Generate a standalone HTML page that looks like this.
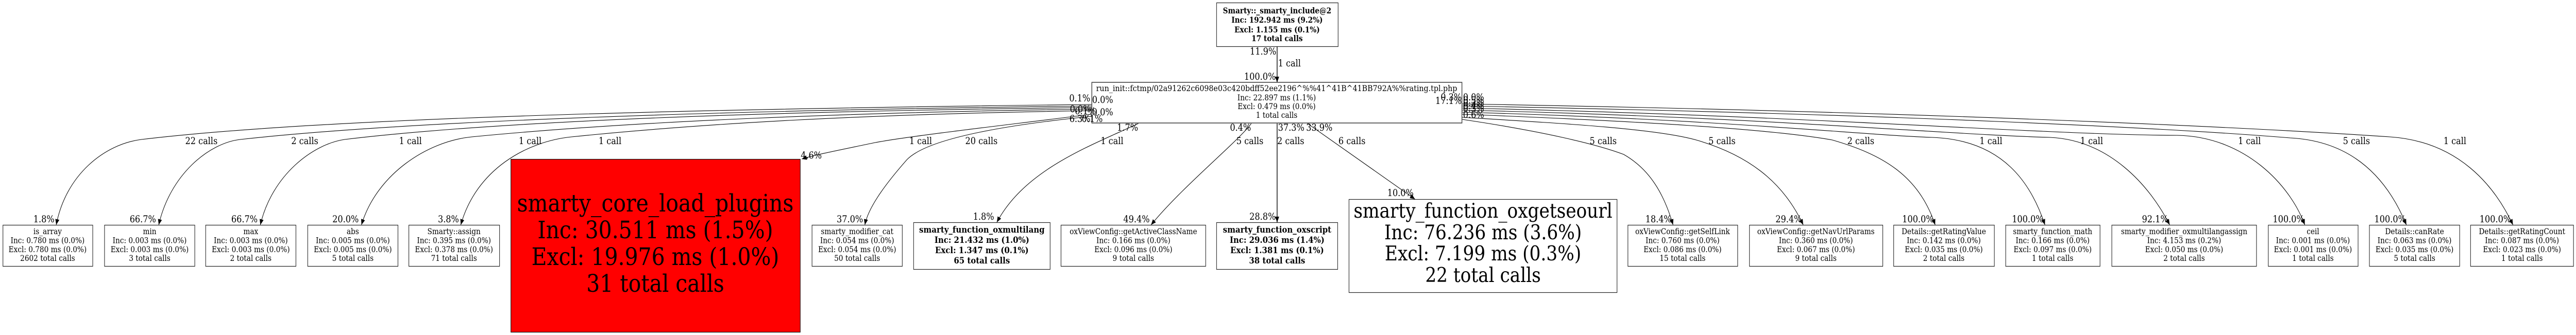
<!DOCTYPE html>
<html><head><meta charset="utf-8"><style>
html,body{margin:0;padding:0;background:#fff;width:100%;height:100%;overflow:hidden;}
svg{display:block;position:fixed;left:0;top:0;width:100vw;height:100vh;}
text{font-family:"DejaVu Serif","Liberation Serif",serif;fill:#000;}
.n{font-size:15.5px;text-anchor:middle;}
.b{font-size:17px;font-weight:bold;text-anchor:middle;}
.l{font-size:18.3px;}
.m{text-anchor:middle;}
.e{text-anchor:end;}
.box{fill:#fff;stroke:#222;stroke-width:1.2;}
.ed{fill:none;stroke:#000;stroke-width:1.1;marker-end:url(#ah);}
.eg{fill:none;stroke:#4a4a4a;stroke-width:2.2;marker-end:url(#ah);}
</style></head><body>
<svg viewBox="0 0 5680 651" preserveAspectRatio="none" xmlns="http://www.w3.org/2000/svg" overflow="hidden">
<defs>
<marker id="ah" markerUnits="userSpaceOnUse" markerWidth="11" markerHeight="9" refX="11" refY="4.5" orient="auto" viewBox="0 0 11 9">
<path d="M0,0 L11,4.5 L0,9 z" fill="#000"/>
</marker>
</defs>
<rect width="5680" height="651" fill="#fff"/>

<!-- top node -->
<rect class="box" x="2682.5" y="5.5" width="268" height="85"/>
<text class="b" style="font-size:15.5px" x="2816" y="26">Smarty::_smarty_include@2</text>
<text class="b" style="font-size:15.5px" x="2816" y="44">Inc: 192.942 ms (9.2%)</text>
<text class="b" style="font-size:15.5px" x="2816" y="63">Excl: 1.155 ms (0.1%)</text>
<text class="b" style="font-size:15.5px" x="2816" y="80">17 total calls</text>
<path class="eg" d="M2816,91 L2816,160"/>
<text class="l e" x="2814" y="106">11.9%</text>
<text class="l" x="2818" y="129">1 call</text>
<text class="l e" x="2813" y="155">100.0%</text>

<!-- edges left -->
<path class="ed" d="M2407,203 C1500,212 700,230 312,271 C230,280 145,340 124,437"/>
<path class="ed" d="M2407,206 C1600,214 900,235 530,271 C460,278 375,340 350,437"/>
<path class="ed" d="M2407,209 C1700,216 1100,235 760,271 C690,280 600,340 574,437"/>
<path class="ed" d="M2407,212 C1900,218 1400,235 1040,266 C940,275 830,340 797,437"/>
<path class="ed" d="M2407,215 C1900,222 1550,240 1260,266 C1160,275 1050,330 1016,437"/>
<path class="ed" d="M2407,222 C2200,245 2000,265 1930,277 C1860,290 1800,300 1768,309"/>
<path class="ed" d="M2407,226 C2250,240 2050,265 2000,310 C1960,350 1915,400 1907,437"/>
<path class="ed" d="M2510,240 C2400,285 2260,330 2198,432"/>
<path class="ed" d="M2759,240 C2730,275 2610,360 2538,437"/>
<path class="eg" d="M2816,240 L2816,432"/>
<path class="ed" d="M2883,240 L3120,387"/>
<!-- edges right -->
<path class="ed" d="M3224,232 C3400,255 3520,280 3580,300 C3640,330 3670,380 3689,437"/>
<path class="ed" d="M3224,228 C3450,240 3650,250 3740,272 C3850,300 3930,350 3976,437"/>
<path class="ed" d="M3224,222 C3600,235 3900,250 4040,272 C4150,300 4230,340 4267,437"/>
<path class="ed" d="M3224,218 C3800,232 4100,262 4260,267 C4420,272 4480,360 4509,437"/>
<path class="ed" d="M3224,214 C3900,228 4300,262 4520,267 C4650,272 4740,360 4784,437"/>
<path class="ed" d="M3224,210 C4000,225 4500,262 4800,263 C4950,265 5050,360 5082,437"/>
<path class="ed" d="M3224,206 C4200,222 4800,250 5050,268 C5200,275 5270,360 5306,437"/>
<path class="ed" d="M3224,202 C4300,218 5000,250 5270,266 C5420,275 5500,360 5541,437"/>

<!-- central node -->
<rect x="2407.5" y="160" width="816" height="79" fill="#fff" stroke="#444" stroke-width="1.6"/>
<text class="n" x="2815" y="177" textLength="796" lengthAdjust="spacingAndGlyphs">run_init::fctmp/02a91262c6098e03c420bdff52ee2196^%%41^41B^41BB792A%%rating.tpl.php</text>
<text class="n" x="2815" y="195">Inc: 22.897 ms (1.1%)</text>
<text class="n" x="2815" y="212">Excl: 0.479 ms (0.0%)</text>
<text class="n" x="2815" y="229">1 total calls</text>

<!-- tail labels left -->
<text class="l e" x="2404" y="197">0.1%</text>
<text class="l" x="2408" y="200">0.0%</text>
<text class="l" x="2359" y="218">0.0%</text>
<text class="l" x="2370" y="222">0.1%</text>
<text class="l" x="2408" y="224">0.0%</text>
<text class="l" x="2358" y="237">6.3%</text>
<text class="l" x="2385" y="237">0.1%</text>
<text class="l" x="2463" y="254">1.7%</text>
<text class="l" x="2712" y="254">0.4%</text>
<text class="l" x="2818" y="254">37.3%</text>
<text class="l" x="2880" y="254">33.9%</text>
<!-- tail labels right -->
<text class="l e" x="3223" y="195">0.3%</text>
<text class="l e" x="3223" y="202">17.1%</text>
<text class="l" x="3226" y="195">0.0%</text>
<text class="l" x="3226" y="201">0.5%</text>
<text class="l" x="3226" y="206">0.3%</text>
<text class="l" x="3226" y="212">0.4%</text>
<text class="l" x="3226" y="217">0.3%</text>
<text class="l" x="3226" y="229">0.6%</text>

<!-- call labels -->
<g class="l m">
<text x="444" y="280">22 calls</text>
<text x="672" y="280">2 calls</text>
<text x="905" y="280">1 call</text>
<text x="1169" y="280">1 call</text>
<text x="1345" y="280">1 call</text>
<text x="2030" y="280">1 call</text>
<text x="2164" y="280">20 calls</text>
<text x="2452" y="280">1 call</text>
<text x="2756" y="280">5 calls</text>
<text x="2846" y="280">2 calls</text>
<text x="2981" y="280">6 calls</text>
<text x="3535" y="280">5 calls</text>
<text x="3797" y="280">5 calls</text>
<text x="4103" y="280">2 calls</text>
<text x="4390" y="280">1 call</text>
<text x="4612" y="280">1 call</text>
<text x="4960" y="280">1 call</text>
<text x="5196" y="280">5 calls</text>
<text x="5413" y="280">1 call</text>
</g>

<!-- head labels -->
<g class="l e">
<text x="120" y="432">1.8%</text>
<text x="344" y="432">66.7%</text>
<text x="568" y="432">66.7%</text>
<text x="791" y="432">20.0%</text>
<text x="1012" y="432">3.8%</text>
<text x="1812" y="308">4.6%</text>
<text x="1903" y="432">37.0%</text>
<text x="2192" y="427">1.8%</text>
<text x="2535" y="432">49.4%</text>
<text x="2813" y="427">28.8%</text>
<text x="3117" y="381">10.0%</text>
<text x="3686" y="432">18.4%</text>
<text x="3973" y="432">29.4%</text>
<text x="4264" y="432">100.0%</text>
<text x="4506" y="432">100.0%</text>
<text x="4781" y="432">92.1%</text>
<text x="5081" y="432">100.0%</text>
<text x="5305" y="432">100.0%</text>
<text x="5537" y="432">100.0%</text>
</g>

<!-- small nodes -->
<rect class="box" x="6.5" y="437.5" width="198" height="80"/>
<text class="n" x="105" y="455">is_array</text><text class="n" x="105" y="472.5">Inc: 0.780 ms (0.0%)</text><text class="n" x="105" y="490">Excl: 0.780 ms (0.0%)</text><text class="n" x="105" y="507">2602 total calls</text>

<rect class="box" x="230.5" y="437.5" width="199" height="80"/>
<text class="n" x="330" y="455">min</text><text class="n" x="330" y="472.5">Inc: 0.003 ms (0.0%)</text><text class="n" x="330" y="490">Excl: 0.003 ms (0.0%)</text><text class="n" x="330" y="507">3 total calls</text>

<rect class="box" x="453.5" y="437.5" width="199" height="80"/>
<text class="n" x="553" y="455">max</text><text class="n" x="553" y="472.5">Inc: 0.003 ms (0.0%)</text><text class="n" x="553" y="490">Excl: 0.003 ms (0.0%)</text><text class="n" x="553" y="507">2 total calls</text>

<rect class="box" x="678.5" y="437.5" width="199" height="80"/>
<text class="n" x="778" y="455">abs</text><text class="n" x="778" y="472.5">Inc: 0.005 ms (0.0%)</text><text class="n" x="778" y="490">Excl: 0.005 ms (0.0%)</text><text class="n" x="778" y="507">5 total calls</text>

<rect class="box" x="901.5" y="437.5" width="200" height="80"/>
<text class="n" x="1001" y="455">Smarty::assign</text><text class="n" x="1001" y="472.5">Inc: 0.395 ms (0.0%)</text><text class="n" x="1001" y="490">Excl: 0.378 ms (0.0%)</text><text class="n" x="1001" y="507">71 total calls</text>

<rect x="1126.5" y="309.5" width="638" height="336" fill="#ff0000" stroke="#111" stroke-width="1.2"/>
<text class="m" style="font-size:46.5px" x="1445" y="411">smarty_core_load_plugins</text>
<text class="m" style="font-size:46.5px" x="1445" y="463">Inc: 30.511 ms (1.5%)</text>
<text class="m" style="font-size:46.5px" x="1445" y="515">Excl: 19.976 ms (1.0%)</text>
<text class="m" style="font-size:46.5px" x="1445" y="567">31 total calls</text>

<rect class="box" x="1790.5" y="437.5" width="199" height="80"/>
<text class="n" x="1890" y="455">smarty_modifier_cat</text><text class="n" x="1890" y="472.5">Inc: 0.054 ms (0.0%)</text><text class="n" x="1890" y="490">Excl: 0.054 ms (0.0%)</text><text class="n" x="1890" y="507">50 total calls</text>

<rect class="box" x="2014.5" y="432.5" width="301" height="91"/>
<text class="b" x="2165" y="452">smarty_function_oxmultilang</text><text class="b" x="2165" y="472">Inc: 21.432 ms (1.0%)</text><text class="b" x="2165" y="492">Excl: 1.347 ms (0.1%)</text><text class="b" x="2165" y="512">65 total calls</text>

<rect class="box" x="2339.5" y="437.5" width="319" height="80"/>
<text class="n" x="2499" y="455">oxViewConfig::getActiveClassName</text><text class="n" x="2499" y="472.5">Inc: 0.166 ms (0.0%)</text><text class="n" x="2499" y="490">Excl: 0.096 ms (0.0%)</text><text class="n" x="2499" y="507">9 total calls</text>

<rect class="box" x="2682.5" y="432.5" width="267" height="91"/>
<text class="b" x="2816" y="452">smarty_function_oxscript</text><text class="b" x="2816" y="472">Inc: 29.036 ms (1.4%)</text><text class="b" x="2816" y="492">Excl: 1.381 ms (0.1%)</text><text class="b" x="2816" y="512">38 total calls</text>

<rect class="box" x="2974.5" y="387.5" width="591" height="181"/>
<text class="m" style="font-size:39px" x="3270" y="423">smarty_function_oxgetseourl</text>
<text class="m" style="font-size:39px" x="3270" y="465">Inc: 76.236 ms (3.6%)</text>
<text class="m" style="font-size:39px" x="3270" y="506">Excl: 7.199 ms (0.3%)</text>
<text class="m" style="font-size:39px" x="3270" y="548">22 total calls</text>

<rect class="box" x="3589.5" y="437.5" width="242" height="80"/>
<text class="n" x="3710" y="455">oxViewConfig::getSelfLink</text><text class="n" x="3710" y="472.5">Inc: 0.760 ms (0.0%)</text><text class="n" x="3710" y="490">Excl: 0.086 ms (0.0%)</text><text class="n" x="3710" y="507">15 total calls</text>

<rect class="box" x="3857.5" y="437.5" width="294" height="80"/>
<text class="n" x="4004" y="455">oxViewConfig::getNavUrlParams</text><text class="n" x="4004" y="472.5">Inc: 0.360 ms (0.0%)</text><text class="n" x="4004" y="490">Excl: 0.067 ms (0.0%)</text><text class="n" x="4004" y="507">9 total calls</text>

<rect class="box" x="4175.5" y="437.5" width="222" height="80"/>
<text class="n" x="4286" y="455">Details::getRatingValue</text><text class="n" x="4286" y="472.5">Inc: 0.142 ms (0.0%)</text><text class="n" x="4286" y="490">Excl: 0.035 ms (0.0%)</text><text class="n" x="4286" y="507">2 total calls</text>

<rect class="box" x="4422.5" y="437.5" width="208" height="80"/>
<text class="n" x="4526" y="455">smarty_function_math</text><text class="n" x="4526" y="472.5">Inc: 0.166 ms (0.0%)</text><text class="n" x="4526" y="490">Excl: 0.097 ms (0.0%)</text><text class="n" x="4526" y="507">1 total calls</text>

<rect class="box" x="4656.5" y="437.5" width="319" height="80"/>
<text class="n" x="4816" y="455">smarty_modifier_oxmultilangassign</text><text class="n" x="4816" y="472.5">Inc: 4.153 ms (0.2%)</text><text class="n" x="4816" y="490">Excl: 0.050 ms (0.0%)</text><text class="n" x="4816" y="507">2 total calls</text>

<rect class="box" x="5001.5" y="437.5" width="198" height="80"/>
<text class="n" x="5100" y="455">ceil</text><text class="n" x="5100" y="472.5">Inc: 0.001 ms (0.0%)</text><text class="n" x="5100" y="490">Excl: 0.001 ms (0.0%)</text><text class="n" x="5100" y="507">1 total calls</text>

<rect class="box" x="5224.5" y="437.5" width="199" height="80"/>
<text class="n" x="5324" y="455">Details::canRate</text><text class="n" x="5324" y="472.5">Inc: 0.063 ms (0.0%)</text><text class="n" x="5324" y="490">Excl: 0.035 ms (0.0%)</text><text class="n" x="5324" y="507">5 total calls</text>

<rect class="box" x="5447.5" y="437.5" width="227" height="80"/>
<text class="n" x="5561" y="455">Details::getRatingCount</text><text class="n" x="5561" y="472.5">Inc: 0.087 ms (0.0%)</text><text class="n" x="5561" y="490">Excl: 0.023 ms (0.0%)</text><text class="n" x="5561" y="507">1 total calls</text>
</svg>
</body></html>
